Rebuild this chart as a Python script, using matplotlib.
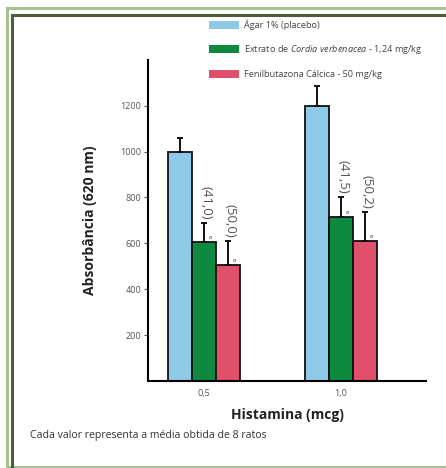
import numpy as np
import matplotlib.pyplot as plt
from matplotlib.lines import Line2D
from matplotlib.patches import Patch

plt.rcParams['font.family'] = ['Open Sans', 'DejaVu Sans']
plt.rcParams['mathtext.fontset'] = 'custom'
plt.rcParams['mathtext.it'] = 'Open Sans:italic'
plt.rcParams['mathtext.rm'] = 'Open Sans'

# doses de histamina e séries
doses = ['0,5', '1,0']
series = ['Ágar 1% (placebo)',
          r'Extrato de $\mathit{Cordia\ verbenacea}$ - 1,24 mg/kg',
          'Fenilbutazona Cálcica - 50 mg/kg']
colors = ['#8ecae8', '#0d8a40', '#e0506a']

agar = [1000, 1200]
agar_err = [60, 85]
cordia = [605, 715]
cordia_err = [85, 85]
fenil = [505, 610]
fenil_err = [105, 125]

# inibição (%) em relação ao placebo
inhib_cordia = ['(41,0)', '(41,5)']
inhib_fenil = ['(50,0)', '(50,2)']

fig = plt.figure(figsize=(4.46, 4.68), dpi=100)
ax = fig.add_axes([0.332, 0.186, 0.623, 0.686])

x = np.arange(len(doses))
w = 0.175
values = [agar, cordia, fenil]
errors = [agar_err, cordia_err, fenil_err]
for i, (vals, errs) in enumerate(zip(values, errors)):
    pos = x + (i - 1) * w
    ax.bar(pos, vals, width=w, color=colors[i], edgecolor='#111111', linewidth=1.3, zorder=2)
    ax.errorbar(pos, vals, yerr=[np.zeros(len(vals)), errs], fmt='none',
                ecolor='#111111', elinewidth=1.4, capsize=2.5, capthick=1.4, zorder=3)
    if i > 0:
        labels = inhib_cordia if i == 1 else inhib_fenil
        for p, v, e, lab in zip(pos, vals, errs, labels):
            ax.text(p + 0.015, v + e + 15, lab, rotation=270, ha='center', va='bottom',
                    fontsize=9.5, color='#555555')
            ax.text(p + 0.035, v + 8, 'a', fontsize=4, style='italic',
                    color='#333333', ha='left', va='bottom')

ax.set_xlim(-0.409, 1.62)
ax.set_ylim(0, 1400)
ax.set_xticks(x)
ax.set_xticklabels(doses, fontsize=6.5, color='#555555')
ax.set_yticks([200, 400, 600, 800, 1000, 1200])
ax.set_yticklabels(['200', '400', '600', '800', '1000', '1200'], fontsize=6.5, color='#555555')
ax.tick_params(axis='x', length=0, pad=6)
ax.tick_params(axis='y', length=3, width=0.8, color='#555555', pad=2)
for s in ['top', 'right']:
    ax.spines[s].set_visible(False)
ax.spines['left'].set_linewidth(1.5)
ax.spines['bottom'].set_linewidth(1.5)

ax.set_xlabel('Histamina (mcg)', fontsize=10, fontweight='bold', color='#222222', labelpad=7)
ax.set_ylabel('Absorbância (620 nm)', fontsize=10, fontweight='bold', color='#222222', labelpad=17)

handles = [Patch(facecolor=c, edgecolor='none') for c in colors]
fig.legend(handles, series, loc='upper left', bbox_to_anchor=(0.458, 0.968),
           frameon=False, fontsize=6.6, handlelength=3.3, handleheight=0.95,
           labelspacing=1.45, handletextpad=0.55, borderpad=0, labelcolor='#444444')

fig.text(0.067, 0.07, 'Cada valor representa a média obtida de 8 ratos',
         fontsize=7.6, color='#333333', ha='left', va='center')

# moldura verde
H, W = 468.0, 446.0
light, dark = '#a6c28e', '#4b5d3a'
fig.add_artist(Line2D([7 / W, 1], [1 - 7.5 / H, 1 - 7.5 / H], color=light, lw=2.2))
fig.add_artist(Line2D([7 / W, 7 / W], [1 - 7.5 / H, 1.5 / H], color=light, lw=2.2))
fig.add_artist(Line2D([7 / W, 1], [1.5 / H, 1.5 / H], color=light, lw=2.2))
fig.add_artist(Line2D([12 / W, 1], [1 - 15 / H, 1 - 15 / H], color=dark, lw=2.2))
fig.add_artist(Line2D([12 / W, 12 / W], [1 - 15 / H, 0], color=dark, lw=2.2))

fig.savefig('out.png', dpi=100)
